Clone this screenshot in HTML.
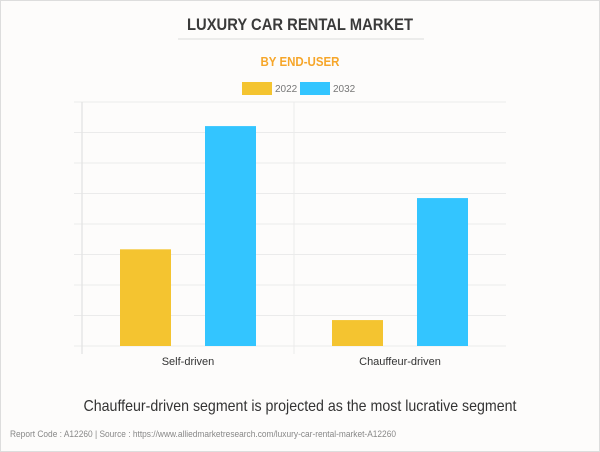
<!DOCTYPE html>
<html><head><meta charset="utf-8"><style>
html,body{margin:0;padding:0;background:#fff}
#wrap{position:relative;width:598px;height:450px;border:1px solid #ddd;background:#fdfcfb;font-family:"Liberation Sans",sans-serif;overflow:hidden}
svg{position:absolute;left:0;top:0}
</style></head><body>
<div id="wrap">
<svg id="chart" width="600" height="452">
<text x="299" y="29" text-anchor="middle" font-size="17" font-weight="bold" fill="#3a3a3a" textLength="226" lengthAdjust="spacingAndGlyphs">LUXURY CAR RENTAL MARKET</text>
<line x1="177" y1="38" x2="423" y2="38" stroke="#e6e6e6" stroke-width="1.5"/>
<text x="299" y="65" text-anchor="middle" font-size="13" font-weight="bold" fill="#f6a62a" textLength="79" lengthAdjust="spacingAndGlyphs">BY END-USER</text>
<g>
<rect x="241" y="81" width="30" height="13" fill="#f4c430"/>
<text x="274" y="91" font-size="10" fill="#777">2022</text>
<rect x="299" y="81" width="30" height="13" fill="#33c5ff"/>
<text x="332" y="91" font-size="10" fill="#777">2032</text>
</g>
<g id="grid"></g>
<g id="bars"></g>
<g id="xlabels"></g>
<text x="299" y="410" text-anchor="middle" font-size="16" fill="#333" textLength="433" lengthAdjust="spacingAndGlyphs">Chauffeur-driven segment is projected as the most lucrative segment</text>
<text x="9" y="436" font-size="9" fill="#888" textLength="386" lengthAdjust="spacingAndGlyphs">Report Code : A12260  |  Source : https://www.alliedmarketresearch.com/luxury-car-rental-market-A12260</text>
</svg>
</div>
<script>
const categories = ["Self-driven", "Chauffeur-driven"];
const series2022 = [3.17, 0.85];
const series2032 = [7.21, 4.85];
const yTicks = [0,1,2,3,4,5,6,7,8];
const NS="http://www.w3.org/2000/svg";
const plotL=81, plotR=505, baseY=345, topY=101, yMax=8;
function y(v){return baseY-(v/yMax)*(baseY-topY);}
function bandCenter(i){const w=(plotR-plotL)/categories.length;return plotL+w*(i+0.5);}
function mk(tag,attrs,parent){const e=document.createElementNS(NS,tag);for(const k in attrs)e.setAttribute(k,attrs[k]);parent.appendChild(e);return e;}
const grid=document.getElementById('grid');
yTicks.forEach(t=>{
  const l=mk('line',{x1:73,x2:plotR,y1:y(t),y2:y(t),stroke:'#ebebeb','stroke-width':1},grid);
  
  
});
const ax=mk('line',{x1:plotL,x2:plotL,y1:topY,y2:baseY+8,stroke:'#e2e2e2','stroke-width':1.2},grid);


for(let i=1;i<categories.length;i++){
  const xx=plotL+(plotR-plotL)/categories.length*i;
  const d=mk('line',{x1:xx,x2:xx,y1:topY,y2:baseY+8,stroke:'#ebebeb','stroke-width':1},grid);
  
  
}
const bars=document.getElementById('bars'), xl=document.getElementById('xlabels');
const bw=51, off=42.5;
categories.forEach((c,i)=>{
  const cx=bandCenter(i);
  const b1=mk('rect',{x:cx-off-bw/2,y:y(series2022[i]),width:bw,height:baseY-y(series2022[i]),fill:'#f4c430'},bars);
  
  
  const b2=mk('rect',{x:cx+off-bw/2,y:y(series2032[i]),width:bw,height:baseY-y(series2032[i]),fill:'#33c5ff'},bars);
  
  
  const t=mk('text',{x:cx,y:364,'text-anchor':'middle','font-size':11,fill:'#333'},xl);
  t.textContent=c;
  
  
});
</script>
</body></html>
